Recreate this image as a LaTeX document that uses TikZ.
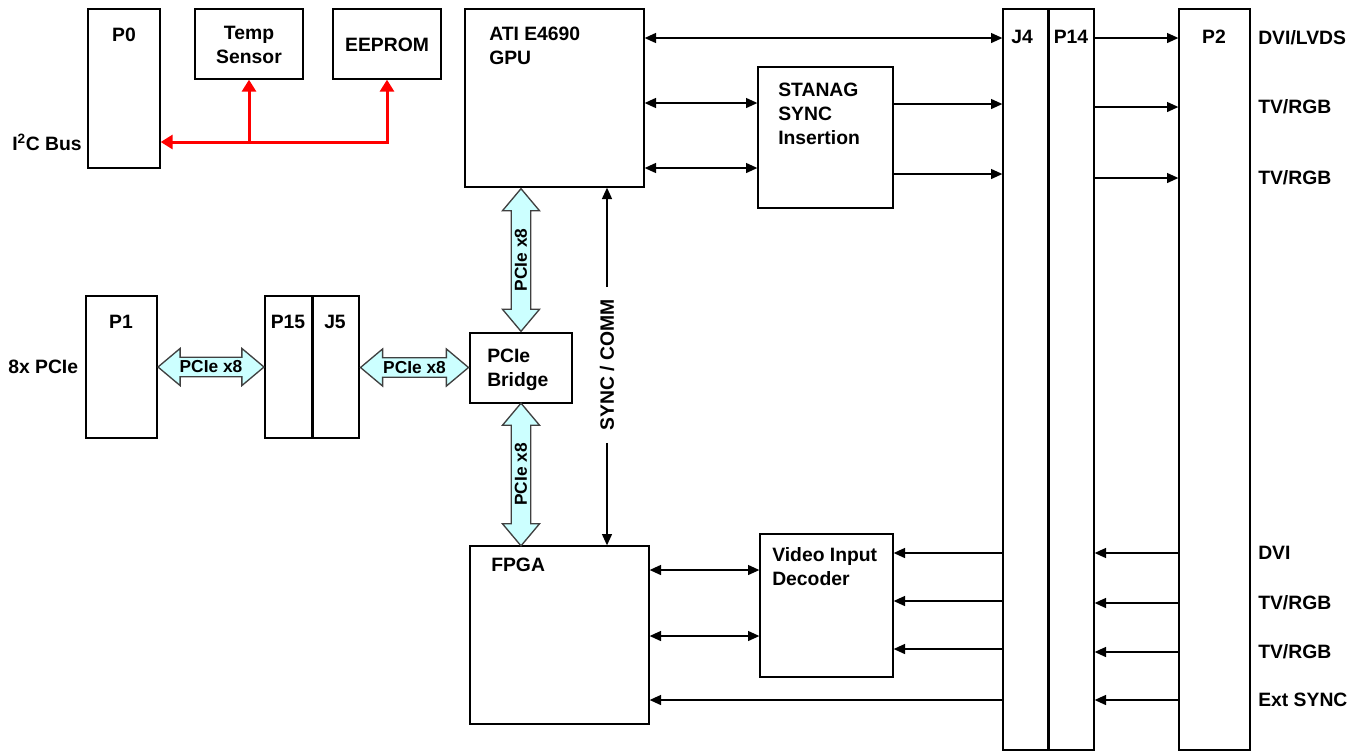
\documentclass[tikz,border=0pt]{standalone}
\usepackage{fontspec}
\setmainfont{Liberation Sans}
\usetikzlibrary{arrows.meta,shapes.arrows,fit}
\definecolor{pciefill}{HTML}{CCFFFF}
\definecolor{busred}{HTML}{FF0000}

\begin{document}
\begin{tikzpicture}[x=0.75pt,y=-0.75pt,
  >={Triangle[length=8.5pt,width=7.5pt]},
  box/.style={draw, line width=1pt, inner sep=0pt},
  divider/.style={line width=2.25pt},
  lbl/.style={font=\bfseries\fontsize{14.5}{18}\selectfont, inner sep=0pt},
  link/.style={line width=1pt},
  i2c/.style={draw=busred, line width=2.25pt, >={Triangle[length=9pt,width=10.5pt]}},
  pcielink/.style={double arrow, draw=black!75, line width=1pt, fill=pciefill,
    double arrow head extend=6.6pt, double arrow tip angle=80,
    inner xsep=1pt, inner ysep=2.2pt, font=\bfseries\fontsize{13}{15}\selectfont}]

\useasboundingbox (0,0) rectangle (1361,751);

\coordinate (p0-nw) at (88,9);
\coordinate (p0-se) at (160,168);
\coordinate (temp-nw) at (195,9);
\coordinate (temp-se) at (303,79);
\coordinate (eeprom-nw) at (333,9);
\coordinate (eeprom-se) at (441,79);
\coordinate (gpu-nw) at (465,9);
\coordinate (gpu-se) at (644,187);
\coordinate (stanag-nw) at (758,67);
\coordinate (stanag-se) at (893,208);
\coordinate (j4-nw) at (1003,9);
\coordinate (j4-se) at (1048,750);
\coordinate (p14-nw) at (1048,9);
\coordinate (p14-se) at (1094,750);
\coordinate (p2-nw) at (1179,9);
\coordinate (p2-se) at (1250,750);
\coordinate (p1-nw) at (86,296);
\coordinate (p1-se) at (157,438);
\coordinate (p15-nw) at (265,296);
\coordinate (p15-se) at (312,438);
\coordinate (j5-nw) at (312,296);
\coordinate (j5-se) at (359,438);
\coordinate (bridge-nw) at (470,333);
\coordinate (bridge-se) at (572,403);
\coordinate (fpga-nw) at (470,546);
\coordinate (fpga-se) at (649,724);
\coordinate (decoder-nw) at (760,534);
\coordinate (decoder-se) at (893,677);

\coordinate (i2c-bus) at (0,142);
\coordinate (gpu-link-a) at (0,103);
\coordinate (gpu-link-b) at (0,168);
\coordinate (stanag-out-a) at (0,104);
\coordinate (stanag-out-b) at (0,174);
\coordinate (decoder-in-a) at (0,553);
\coordinate (decoder-in-b) at (0,601);
\coordinate (decoder-in-c) at (0,649);
\coordinate (fpga-link-a) at (0,570);
\coordinate (fpga-link-b) at (0,636);

\node[box, fit=(p0-nw) (p0-se)] (p0) {};
\node[box, fit=(temp-nw) (temp-se)] (temp-sensor) {};
\node[box, fit=(eeprom-nw) (eeprom-se)] (eeprom) {};
\node[box, fit=(gpu-nw) (gpu-se)] (gpu) {};
\node[box, fit=(stanag-nw) (stanag-se)] (stanag) {};
\node[box, fit=(j4-nw) (j4-se)] (j4) {};
\node[box, fit=(p14-nw) (p14-se)] (p14) {};
\node[box, fit=(p2-nw) (p2-se)] (p2) {};
\node[box, fit=(p1-nw) (p1-se)] (p1) {};
\node[box, fit=(p15-nw) (p15-se)] (p15) {};
\node[box, fit=(j5-nw) (j5-se)] (j5) {};
\node[box, fit=(bridge-nw) (bridge-se)] (bridge) {};
\node[box, fit=(fpga-nw) (fpga-se)] (fpga) {};
\node[box, fit=(decoder-nw) (decoder-se)] (decoder) {};

\draw[divider] (j4.north east) -- (j4.south east);
\draw[divider] (p15.north east) -- (p15.south east);

\node[lbl] (p0-label) at (124,35) {P0};
\node[lbl, anchor=north, align=center] (temp-label) at (249,26) {Temp\\Sensor};
\node[lbl] (eeprom-label) at (387,45) {EEPROM};
\node[lbl, anchor=west] (i2c-label) at (12,142) {I\textsuperscript{2}C Bus};
\node[lbl, anchor=north west, align=left] (gpu-label) at (489,27) {ATI E4690\\GPU};
\node[lbl, anchor=north west, align=left] (stanag-label) at (778,83) {STANAG\\SYNC\\Insertion};
\node[lbl] (j4-label) at (1022,37) {J4};
\node[lbl] (p14-label) at (1071,37) {P14};
\node[lbl] (p2-label) at (1214,37) {P2};
\node[lbl] (p1-label) at (121,322) {P1};
\node[lbl] (p15-label) at (288,322) {P15};
\node[lbl] (j5-label) at (335,322) {J5};
\node[lbl, anchor=west] (pcie-label) at (8,367) {8x PCIe};
\node[lbl, anchor=north west, align=left] (bridge-label) at (487,349) {PCIe\\Bridge};
\node[lbl, anchor=west] (fpga-label) at (491,565) {FPGA};
\node[lbl, anchor=north west, align=left] (decoder-label) at (772,547) {Video Input\\Decoder};

\node[lbl, anchor=west] (out-dvi) at (1258,38) {DVI/LVDS};
\node[lbl, anchor=west] (out-tv-a) at (1258,107) {TV/RGB};
\node[lbl, anchor=west] (out-tv-b) at (1258,178) {TV/RGB};
\node[lbl, anchor=west] (in-dvi) at (1258,553) {DVI};
\node[lbl, anchor=west] (in-tv-a) at (1258,603) {TV/RGB};
\node[lbl, anchor=west] (in-tv-b) at (1258,652) {TV/RGB};
\node[lbl, anchor=west] (in-sync) at (1258,700) {Ext SYNC};

\draw[i2c, <->] (eeprom.south) |- (p0.east |- i2c-bus);
\draw[i2c, ->] (temp-sensor.south |- i2c-bus) -- (temp-sensor.south);

\path (p1.east) -- (p15.west) node[pcielink, midway, minimum height=79.5pt] (pcie-p1) {PCIe x8};
\path (j5.east) -- (bridge.west) node[pcielink, midway, minimum height=81pt] (pcie-j5) {PCIe x8};
\path (bridge.north |- gpu.south) -- (bridge.north) node[pcielink, midway, rotate=90, minimum height=107pt] (pcie-gpu) {PCIe x8};
\path (bridge.south) -- (bridge.south |- fpga.north) node[pcielink, midway, rotate=90, minimum height=107pt] (pcie-fpga) {PCIe x8};

\node[lbl, rotate=90, inner xsep=9pt] (sync-comm) at (607,365) {SYNC / COMM};
\draw[link, ->] (sync-comm.east) -- (sync-comm.east |- gpu.south);
\draw[link, ->] (sync-comm.west) -- (sync-comm.west |- fpga.north);

\draw[link, <->] (gpu.east |- out-dvi) -- (j4.west |- out-dvi);
\draw[link, <->] (gpu.east |- gpu-link-a) -- (stanag.west |- gpu-link-a);
\draw[link, <->] (gpu.east |- gpu-link-b) -- (stanag.west |- gpu-link-b);
\draw[link, ->] (stanag.east |- stanag-out-a) -- (j4.west |- stanag-out-a);
\draw[link, ->] (stanag.east |- stanag-out-b) -- (j4.west |- stanag-out-b);

\draw[link, ->] (p14.east |- out-dvi) -- (p2.west |- out-dvi);
\draw[link, ->] (p14.east |- out-tv-a) -- (p2.west |- out-tv-a);
\draw[link, ->] (p14.east |- out-tv-b) -- (p2.west |- out-tv-b);

\draw[link, ->] (p2.west |- in-dvi) -- (p14.east |- in-dvi);
\draw[link, ->] (p2.west |- in-tv-a) -- (p14.east |- in-tv-a);
\draw[link, ->] (p2.west |- in-tv-b) -- (p14.east |- in-tv-b);
\draw[link, ->] (p2.west |- in-sync) -- (p14.east |- in-sync);

\draw[link, ->] (j4.west |- decoder-in-a) -- (decoder.east |- decoder-in-a);
\draw[link, ->] (j4.west |- decoder-in-b) -- (decoder.east |- decoder-in-b);
\draw[link, ->] (j4.west |- decoder-in-c) -- (decoder.east |- decoder-in-c);
\draw[link, ->] (j4.west |- in-sync) -- (fpga.east |- in-sync);

\draw[link, <->] (fpga.east |- fpga-link-a) -- (decoder.west |- fpga-link-a);
\draw[link, <->] (fpga.east |- fpga-link-b) -- (decoder.west |- fpga-link-b);

\end{tikzpicture}
\end{document}
